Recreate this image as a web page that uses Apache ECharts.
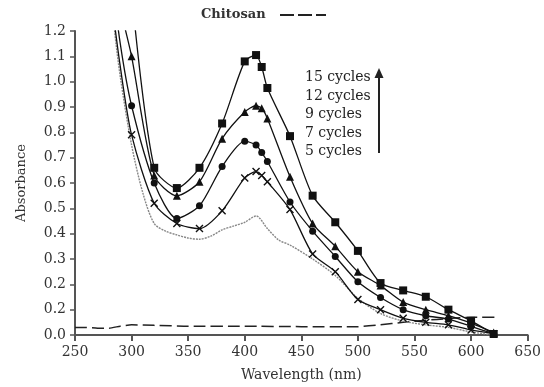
<!DOCTYPE html>
<html>
<head>
<meta charset="utf-8">
<script src="https://cdn.jsdelivr.net/npm/echarts@6/dist/echarts.min.js"></script>
<style>html,body{margin:0;padding:0;background:#fff}#c{width:544px;height:387px}</style>
</head>
<body>
<div id="c"></div>
<script>
// wavelengths (nm) of the sampled points for the marked curves
const wl = [280, 290, 300, 320, 340, 360, 380, 400, 410, 415, 420, 440, 460, 480, 500, 520, 540, 560, 580, 600, 620];
const cycles15 = [null, 2.00, 1.35, 0.66, 0.58, 0.66, 0.835, 1.08, 1.105, 1.058, 0.975, 0.785, 0.55, 0.445, 0.332, 0.205, 0.176, 0.151, 0.10, 0.056, 0.004];
const cycles12 = [1.70, 1.30, 1.10, 0.63, 0.55, 0.605, 0.775, 0.88, 0.905, 0.895, 0.855, 0.625, 0.44, 0.35, 0.25, 0.195, 0.13, 0.10, 0.076, 0.047, 0.01];
const cycles9  = [1.50, 1.15, 0.905, 0.60, 0.46, 0.51, 0.665, 0.765, 0.75, 0.72, 0.685, 0.525, 0.41, 0.31, 0.21, 0.148, 0.10, 0.076, 0.063, 0.034, 0.005];
const cycles7  = [1.40, 1.06, 0.79, 0.52, 0.44, 0.42, 0.49, 0.62, 0.645, 0.63, 0.605, 0.495, 0.32, 0.25, 0.14, 0.10, 0.066, 0.05, 0.04, 0.02, 0.005];
// unmarked dotted curve
const wl5 = [280, 285, 290, 300, 310, 320, 330, 340, 350, 360, 370, 380, 390, 400, 410, 420, 430, 440, 460, 480, 500, 520, 540, 560, 580, 600, 620];
const cycles5 = [1.45, 1.2, 1.02, 0.75, 0.56, 0.44, 0.41, 0.395, 0.383, 0.378, 0.39, 0.415, 0.43, 0.445, 0.47, 0.42, 0.375, 0.355, 0.30, 0.235, 0.145, 0.085, 0.055, 0.04, 0.03, 0.012, 0.0];
// chitosan dashed baseline
const wlChitosan = [250, 260, 270, 280, 290, 300, 320, 350, 400, 450, 500, 520, 540, 560, 580, 600, 625];
const chitosan = [0.03, 0.03, 0.027, 0.027, 0.035, 0.04, 0.038, 0.035, 0.035, 0.033, 0.033, 0.04, 0.05, 0.058, 0.065, 0.07, 0.07];
// y tick labels as printed (the 0.1 tick reads "0.2" in the original)
const yTickLabels = ['0.0', '0.2', '0.2', '0.3', '0.4', '0.5', '0.6', '0.7', '0.8', '0.9', '1.0', '1.1', '1.2'];
const cycleLabels = ['15 cycles', '12 cycles', '9 cycles', '7 cycles', '5 cycles'];
const legendLabel = 'Chitosan';
const firstMarked = 300;

const FONT = '"DejaVu Serif", "Liberation Serif", serif';
function pairs(xs, ys) { return xs.map((x, i) => [x, ys[i]]); }
const xPath = 'path://M0,0L10,10M10,0L0,10';

function marked(name, ys, sym, size) {
  return {
    name: name, type: 'line', data: pairs(wl, ys), smooth: 0.25,
    showAllSymbol: true, symbolSize: size,
    symbol: function (v) { return v[0] >= firstMarked ? sym : 'none'; },
    lineStyle: { color: '#111', width: 1.3 },
    itemStyle: { color: '#111', borderColor: '#111', borderWidth: sym === xPath ? 1.4 : 0 },
    z: 3
  };
}

const chart = echarts.init(document.getElementById('c'), null, { renderer: 'canvas' });
const textTops = [77.5, 96, 114.5, 133, 151];
const graphics = cycleLabels.map((t, i) => ({
  type: 'text', x: 305, y: textTops[i],
  style: { text: t, font: '14px ' + FONT, fill: '#222', verticalAlign: 'middle' }
}));
graphics.push({ type: 'line', shape: { x1: 379, y1: 153, x2: 379, y2: 74 }, style: { stroke: '#222', lineWidth: 2 } });
graphics.push({ type: 'polygon', shape: { points: [[374.5, 78], [379, 68], [383.5, 78]] }, style: { fill: '#222' } });
// legend entry: label + dashed sample
graphics.push({ type: 'text', x: 201, y: 15, style: { text: legendLabel, font: 'bold 13px ' + FONT, fill: '#333', verticalAlign: 'middle' } });
graphics.push({ type: 'line', shape: { x1: 280, y1: 15, x2: 326, y2: 15 }, style: { stroke: '#222', lineWidth: 1.8, lineDash: [14, 4] } });

chart.setOption({
  animation: false,
  backgroundColor: '#fff',
  grid: { left: 75, right: 15, top: 31, bottom: 51, containLabel: false },
  xAxis: {
    type: 'value', min: 250, max: 650, interval: 50,
    name: 'Wavelength (nm)', nameLocation: 'middle', nameGap: 33,
    nameTextStyle: { fontFamily: FONT, fontSize: 14, color: '#333' },
    axisLine: { show: true, lineStyle: { color: '#555', width: 2 } },
    axisTick: { show: true, length: 6, lineStyle: { color: '#555', width: 2 } },
    axisLabel: { fontFamily: FONT, fontSize: 14, color: '#333', margin: 10 },
    splitLine: { show: false }
  },
  yAxis: {
    type: 'value', min: 0, max: 1.2, interval: 0.1,
    name: 'Absorbance', nameLocation: 'middle', nameGap: 47, nameRotate: 90,
    nameTextStyle: { fontFamily: FONT, fontSize: 13, color: '#333' },
    axisLine: { show: true, lineStyle: { color: '#555', width: 2 } },
    axisTick: { show: true, length: 5, lineStyle: { color: '#555', width: 1.5 } },
    axisLabel: {
      fontFamily: FONT, fontSize: 14, color: '#333', margin: 9,
      formatter: function (v) { return yTickLabels[Math.round(v * 10)]; }
    },
    splitLine: { show: false }
  },
  series: [
    {
      name: legendLabel, type: 'line', data: pairs(wlChitosan, chitosan), symbol: 'none', smooth: 0.2,
      lineStyle: { color: '#222', width: 1.5, type: [12, 5] }, itemStyle: { color: '#222' }, z: 2
    },
    {
      name: cycleLabels[4], type: 'line', data: pairs(wl5, cycles5), symbol: 'none', smooth: 0.3,
      lineStyle: { color: '#888', width: 1.4, type: [2, 1] }, z: 2
    },
    marked(cycleLabels[3], cycles7, xPath, 7),
    marked(cycleLabels[2], cycles9, 'circle', 7),
    marked(cycleLabels[1], cycles12, 'triangle', 8),
    marked(cycleLabels[0], cycles15, 'rect', 8)
  ],
  graphic: graphics
});
</script>
</body>
</html>
